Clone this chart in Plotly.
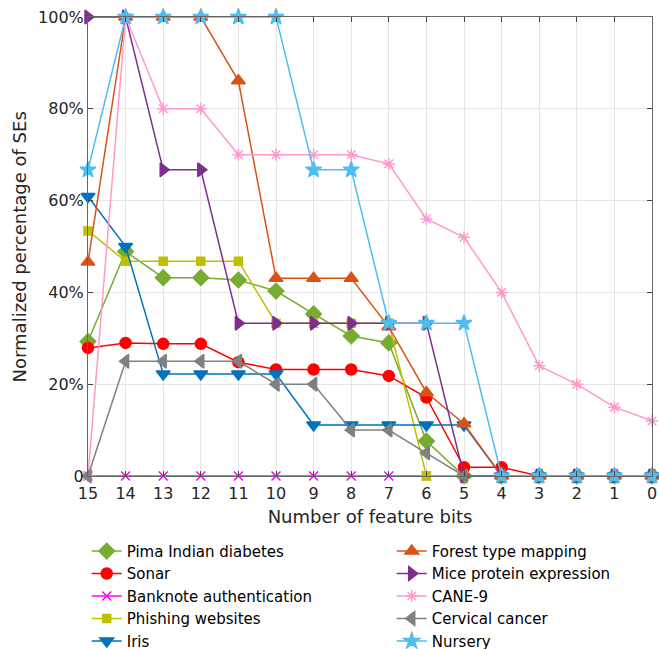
import plotly.graph_objects as go

bits = [15, 14, 13, 12, 11, 10, 9, 8, 7, 6, 5, 4, 3, 2, 1, 0]

pima = [29.3, 48.9, 43.2, 43.2, 42.7, 40.3, 35.3, 30.5, 29.0, 7.6, 0, 0, 0, 0, 0, 0]
sonar = [27.9, 29.0, 28.8, 28.8, 24.8, 23.2, 23.2, 23.2, 21.8, 17.1, 1.9, 1.9, 0, 0, 0, 0]
banknote = [0] * 16
phishing = [53.4, 46.8, 46.8, 46.8, 46.8, 33.3, 33.3, 33.3, 33.3, 0, 0, 0, 0, 0, 0, 0]
iris = [60.9, 50.0, 22.2, 22.2, 22.2, 22.2, 11.1, 11.1, 11.1, 11.1, 11.1, 0, 0, 0, 0, 0]
forest = [46.6, 100, 100, 100, 86.1, 43.1, 43.1, 43.1, 32.5, 18.2, 11.4, 0, 0, 0, 0, 0]
mice = [100, 100, 66.7, 66.7, 33.3, 33.3, 33.3, 33.3, 33.3, 33.3, 0, 0, 0, 0, 0, 0]
cane9 = [0, 100, 80, 80, 70, 70, 70, 70, 68, 56, 52, 40, 24, 20, 15, 12]
cervical = [0, 25, 25, 25, 25, 20, 20, 10, 10, 5, 0, 0, 0, 0, 0, 0]
nursery = [66.7, 100, 100, 100, 100, 100, 66.7, 66.7, 33.3, 33.3, 33.3, 0, 0, 0, 0, 0]

ytick_vals = [0, 20, 40, 60, 80, 100]
ytick_text = ["0", "20%", "40%", "60%", "80%", "100%"]

x_title = "Number of feature bits"
y_title = "Normalized percentage of SEs"

series = [
    ("Pima Indian diabetes", pima, "#77AC30", "diamond", 12, "legend"),
    ("Sonar", sonar, "#FF0000", "circle", 11, "legend"),
    ("Banknote authentication", banknote, "#FF00FF", "x-thin-open", 9, "legend"),
    ("Phishing websites", phishing, "#C0C000", "square", 8, "legend"),
    ("Iris", iris, "#0072BD", "triangle-down", 12, "legend"),
    ("Forest type mapping", forest, "#D95319", "triangle-up", 12, "legend2"),
    ("Mice protein expression", mice, "#7E2F8E", "triangle-right", 12, "legend2"),
    ("CANE-9", cane9, "#FF99CC", "asterisk-open", 10, "legend2"),
    ("Cervical cancer", cervical, "#808080", "triangle-left", 12, "legend2"),
    ("Nursery", nursery, "#4DBEEE", "star", 12, "legend2"),
]

FONT = "DejaVu Sans, Liberation Sans, Arial, sans-serif"

fig = go.Figure()
for name, vals, color, sym, size, leg in series:
    fig.add_trace(go.Scatter(
        x=bits, y=vals, name=name, mode="lines+markers",
        line=dict(color=color, width=1.5),
        marker=dict(symbol=sym, size=size, color=color,
                    line=dict(color=color, width=1.5)),
        cliponaxis=False, legend=leg,
    ))

axis_common = dict(
    showline=True, linecolor="#666666", linewidth=1, mirror="ticks",
    ticks="inside", ticklen=5, tickcolor="#444444",
    showgrid=True, gridcolor="#E6E6E6", gridwidth=1, zeroline=False,
    tickfont=dict(size=16, color="#262626", family=FONT),
    automargin=False,
)

fig.update_xaxes(range=[15, 0], tickvals=bits, ticktext=[str(b) for b in bits],
                 ticklabelstandoff=3,
                 title=dict(text=x_title, font=dict(size=18, color="#262626", family=FONT), standoff=8),
                 **axis_common)
fig.update_yaxes(range=[0, 100], tickvals=ytick_vals, ticktext=ytick_text,
                 **axis_common)

fig.add_annotation(
    text=y_title, textangle=-90, showarrow=False,
    xref="paper", yref="paper", x=-0.1206, y=0.5,
    xanchor="center", yanchor="middle",
    font=dict(size=18, color="#262626", family=FONT),
)

leg_common = dict(
    orientation="v", xref="container", yref="container",
    y=0.176, xanchor="left", yanchor="top",
    font=dict(size=15, color="#000000", family=FONT),
    tracegroupgap=0, itemwidth=30,
    bgcolor="rgba(0,0,0,0)",
)

fig.update_layout(
    width=659, height=649,
    margin=dict(l=88, r=7, t=17, b=173, autoexpand=False),
    plot_bgcolor="white", paper_bgcolor="white",
    font=dict(family=FONT, color="#262626"),
    legend=dict(x=0.1316, **leg_common),
    legend2=dict(x=0.5944, **leg_common),
)

fig.write_html(
    "out.html",
    config={"displayModeBar": False},
    post_script="document.body.style.margin='0';document.documentElement.style.overflow='hidden';",
)
